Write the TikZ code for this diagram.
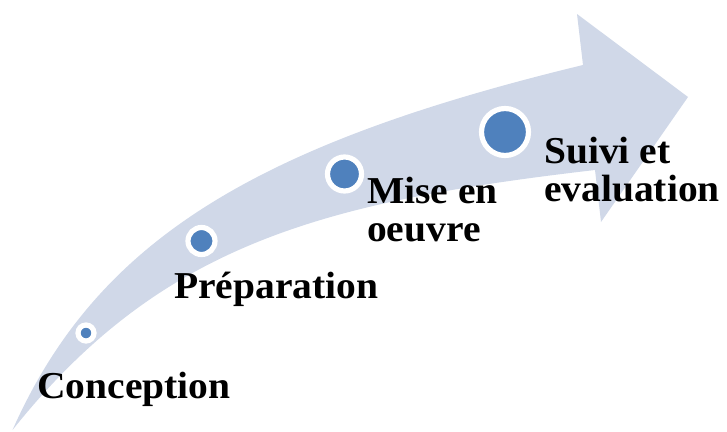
\documentclass[tikz,border=0pt]{standalone}
\usepackage{fontspec}
\setmainfont{Liberation Serif}[FakeStretch=1.04]
\definecolor{band}{HTML}{D0D8E8}
\definecolor{dot}{HTML}{4F81BD}
\begin{document}
\begin{tikzpicture}[x=1pt,y=-1pt,
  dotc/.style={circle,fill=dot,draw=white,line width=5.2pt,inner sep=0pt,minimum size=#1},
  lbl/.style={anchor=base west,inner sep=0pt,align=left,font=\fontsize{38}{38}\selectfont\bfseries}]
\useasboundingbox (0,0) rectangle (727,431);
% curved arrow
\fill[band] (12.5,430) .. controls (96,242) and (252,145) .. (583,65)
  -- (577,14) -- (688,97) -- (601,222) -- (595,170)
  .. controls (320,202) and (160,245) .. (12.5,430) -- cycle;
% circles
\node[dotc=16pt] (c1) at (86,333) {};
\node[dotc=27pt] (c2) at (201.5,241) {};
\node[dotc=34pt] (c3) at (344.5,174) {};
\node[dotc=47pt] (c4) at (505,132) {};
% labels
\node[lbl] (t1) at (37,398) {Conception};
\node[lbl] (t2) at (174,298) {Préparation};
\node[lbl] (t3) at (367,241.7) {Mise en\\oeuvre};
\node[lbl] (t4) at (544,201.7) {Suivi et\\evaluation};
\end{tikzpicture}
\end{document}
